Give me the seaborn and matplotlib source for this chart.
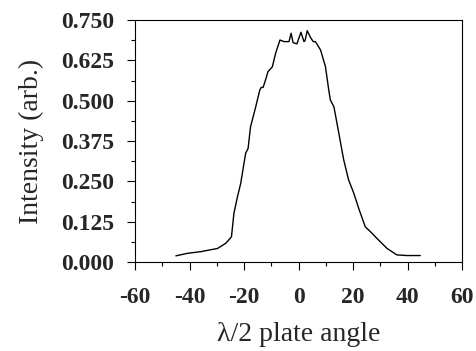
import matplotlib
matplotlib.use("Agg")
import matplotlib.pyplot as plt
import seaborn as sns
import numpy as np
import pandas as pd
from matplotlib.ticker import MultipleLocator, FormatStrFormatter

angle = [-45, -40.7, -35.9, -29.7, -26.7, -24.6, -23.7, -22.4, -21.2, -19.4, -18.5,
         -17.6, -15.7, -14.2, -13.7, -13.0, -12.1, -11.2, -9.6, -8.4, -6.8, -5.3,
         -3.5, -2.7, -2.0, -0.6, 0.9, 2.0, 2.4, 3.2, 4.4, 5.4, 6.2, 8.1, 9.9, 11.1,
         11.7, 13.0, 14.8, 16.6, 18.4, 20.3, 22.1, 24.5, 26.4, 28.8, 32.5, 36.1,
         39.8, 44.7]
intensity = [0.019, 0.027, 0.032, 0.042, 0.058, 0.078, 0.151, 0.202, 0.244, 0.337, 0.352,
             0.419, 0.481, 0.533, 0.541, 0.541, 0.564, 0.590, 0.605, 0.647, 0.688, 0.683,
             0.683, 0.709, 0.680, 0.676, 0.712, 0.683, 0.686, 0.717, 0.696, 0.683, 0.683,
             0.657, 0.605, 0.533, 0.502, 0.481, 0.399, 0.316, 0.254, 0.213, 0.166, 0.109,
             0.094, 0.073, 0.042, 0.022, 0.020, 0.020]

x_ticks = [-60, -40, -20, 0, 20, 40, 60]
y_ticks = [0.000, 0.125, 0.250, 0.375, 0.500, 0.625, 0.750]

sns.set_style("ticks")
plt.rcParams['font.family'] = ['Liberation Serif', 'DejaVu Serif']

df = pd.DataFrame({"angle": angle, "intensity": intensity})

fig = plt.figure(figsize=(4.76, 3.51), dpi=100)
ax = fig.add_axes([135/476, 1 - 262/351, (462-135)/476, (262-20)/351])
sns.lineplot(data=df, x="angle", y="intensity", ax=ax, color="black", linewidth=1.0)

ax.set_xlim(-60, 60)
ax.set_ylim(0, 0.75)
ax.set_xticks(x_ticks)
ax.set_yticks(y_ticks)
ax.xaxis.set_minor_locator(MultipleLocator(10))
ax.yaxis.set_minor_locator(MultipleLocator(0.0625))
ax.yaxis.set_major_formatter(FormatStrFormatter('%.3f'))
ax.set_xticklabels([str(t) for t in x_ticks])
for lab in ax.get_xticklabels() + ax.get_yticklabels():
    lab.set_fontsize(17)
    lab.set_fontweight('bold')
ax.tick_params(which='major', direction='out', length=6, width=0.8, color='black')
ax.tick_params(axis='y', which='major', pad=9)
ax.tick_params(axis='x', which='major', pad=12)
ax.tick_params(which='minor', direction='out', length=3, width=0.8, color='black')
for s in ax.spines.values():
    s.set_visible(True)
    s.set_linewidth(0.8)
    s.set_color('black')
ax.set_xlabel("λ/2 plate angle", fontsize=20, labelpad=10)
ax.set_ylabel("Intensity (arb.)", fontsize=20, labelpad=12)

fig.savefig("out.png", dpi=100)
